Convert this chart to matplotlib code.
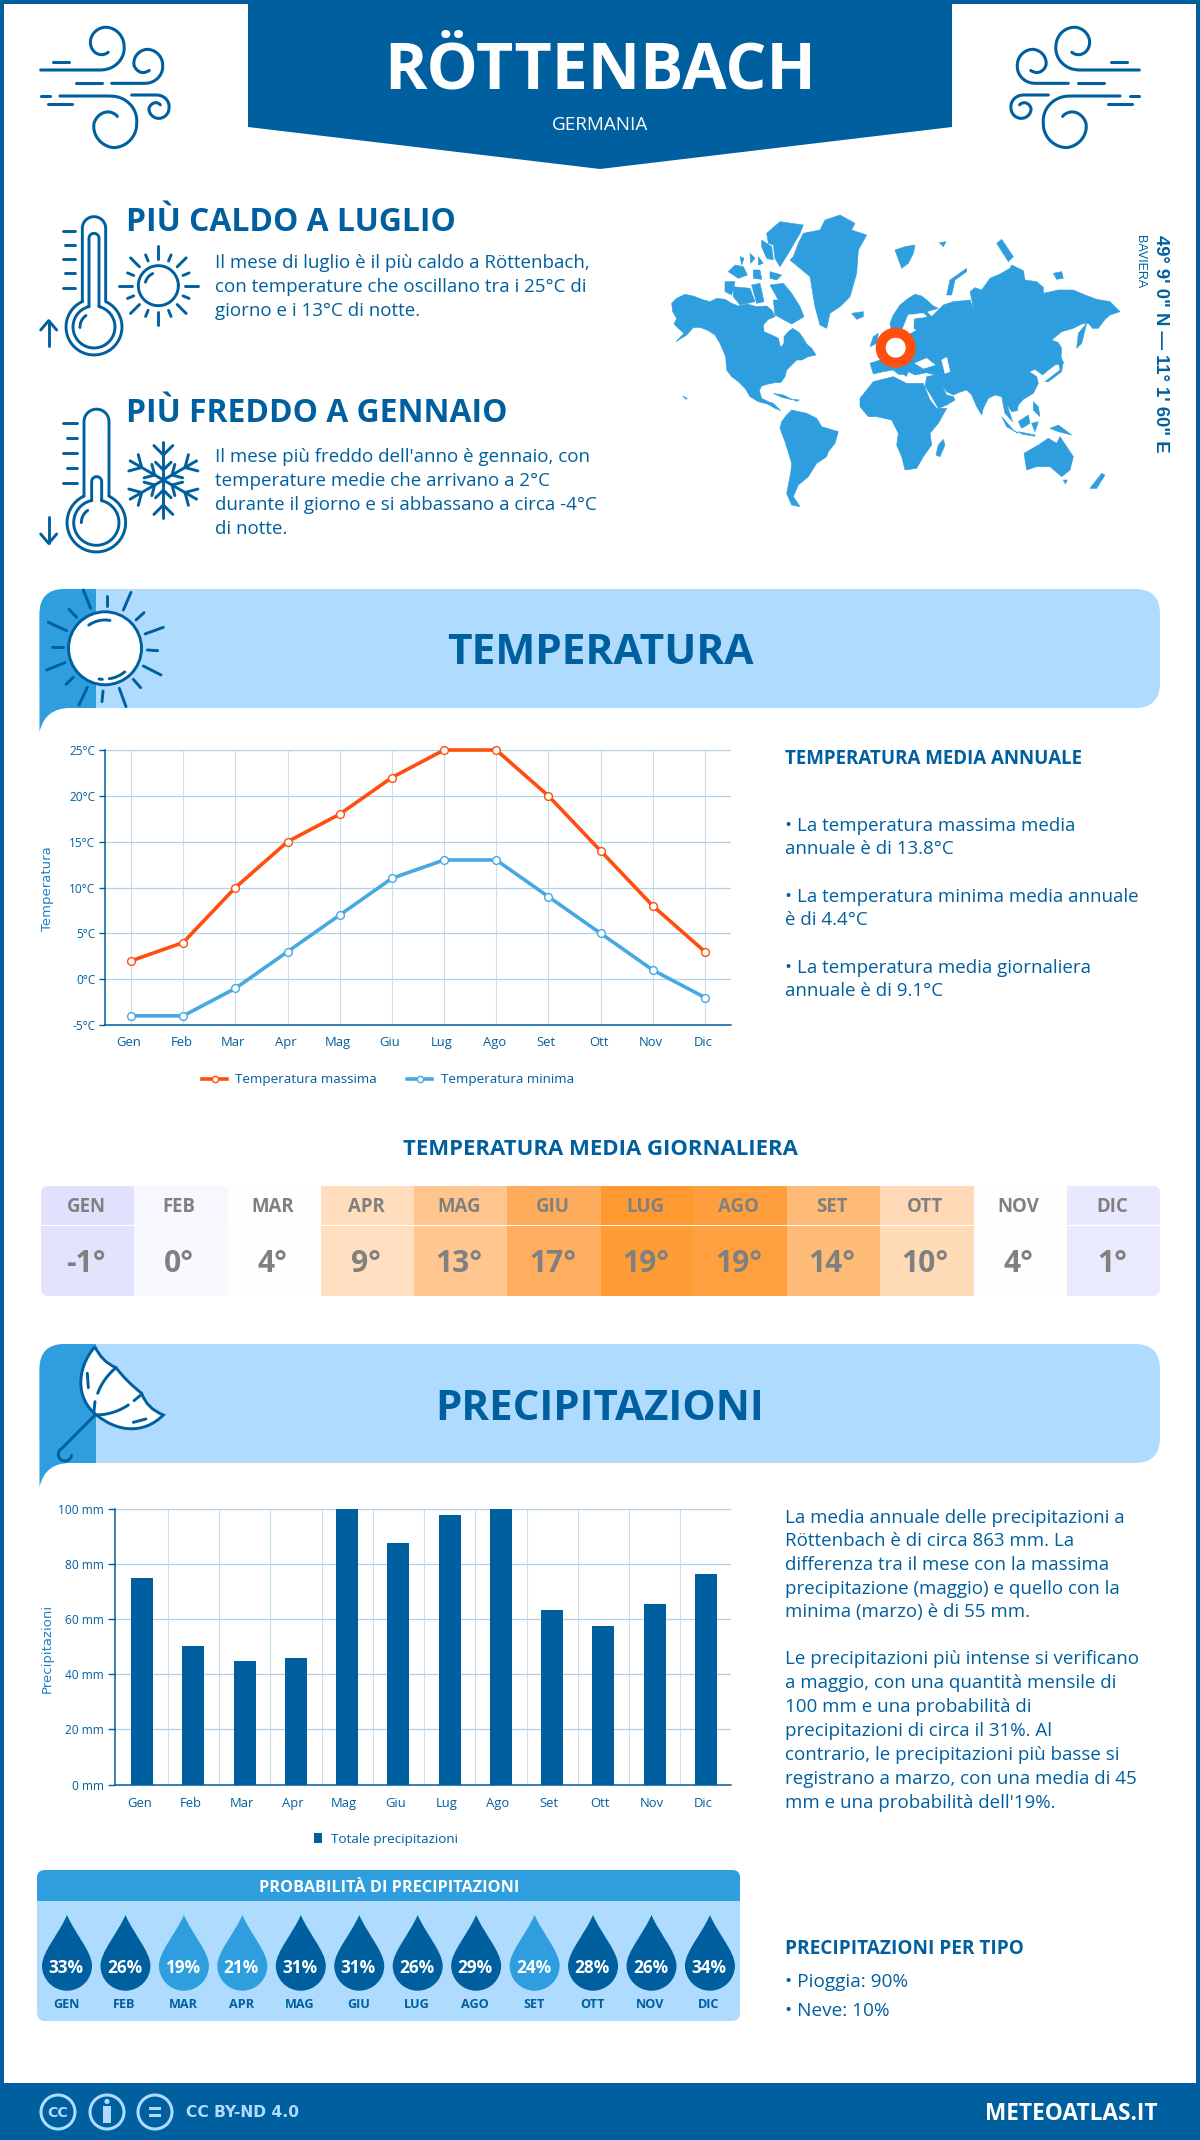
import numpy as np
import matplotlib
matplotlib.use('Agg')
import matplotlib.pyplot as plt
from matplotlib.path import Path
from matplotlib.patches import PathPatch, FancyBboxPatch, Circle, Rectangle, Polygon
from matplotlib.transforms import ScaledTranslation

plt.rcParams['font.family'] = ['Open Sans', 'DejaVu Sans']

# ---------- data ----------
months = ['Gen', 'Feb', 'Mar', 'Apr', 'Mag', 'Giu', 'Lug', 'Ago', 'Set', 'Ott', 'Nov', 'Dic']
temp_max = [2, 4, 10, 15, 18, 22, 25, 25, 20, 14, 8, 3]
temp_min = [-4, -4, -1, 3, 7, 11, 13, 13, 9, 5, 1, -2]
temp_daily = [-1, 0, 4, 9, 13, 17, 19, 19, 14, 10, 4, 1]
precip = [75, 50.2, 44.7, 45.8, 100, 87.8, 98, 100, 63.3, 57.5, 65.6, 76.5]
precip_prob = [33, 26, 19, 21, 31, 31, 26, 29, 24, 28, 26, 34]
temp_ticks = [-5, 0, 5, 10, 15, 20, 25]
precip_ticks = [0, 20, 40, 60, 80, 100]

NAVY = '#005F9E'
MID = '#2E9EDE'
LIGHT = '#AFDBFF'
ORANGE = '#FF4E0D'
MINLINE = '#46A9E2'
GRID_H = '#B3D1E6'
GRID_V = '#C8DFF0'

head_cols = ['#E1E1FD', '#F7F7FF', '#FEFEFE', '#FFDDBD', '#FFC58D', '#FFAB5C', '#FF9A33', '#FF9E3D', '#FFBA75', '#FFD9B5', '#FEFEFE', '#E8E8FF']
val_cols = ['#E3E3FE', '#F8F8FF', '#FEFEFE', '#FFDFC0', '#FFC78F', '#FFAD5F', '#FF9C36', '#FFA040', '#FFBC78', '#FFDBB8', '#FEFEFE', '#EAEAFF']

fig = plt.figure(figsize=(12, 21.4), dpi=100, facecolor='white')
bg = fig.add_axes([0, 0, 1, 1], zorder=0)
bg.set_xlim(0, 1200)
bg.set_ylim(2140, 0)
bg.axis('off')


def T(x, y, s, px, color=NAVY, weight='normal', ha='left', family=None, **kw):
    """y is the baseline in pixels; px the font size in pixels."""
    return bg.text(x, y, s, fontsize=px * 0.72, color=color, weight=weight, ha=ha, va='baseline',
                   family=family if family else ['Open Sans', 'DejaVu Sans'], **kw)


def arc(cx, cy, r, a0, a1, n=40):
    a = np.radians(np.linspace(a0, a1, n))
    return list(zip(cx + r * np.cos(a), cy + r * np.sin(a)))


def spiral(cx, cy, knots, n=100):
    ang = [k[0] for k in knots]
    rad = [k[1] for k in knots]
    a = np.linspace(ang[0], ang[-1], n)
    if ang[0] > ang[-1]:
        r = np.interp(a[::-1], ang[::-1], rad[::-1])[::-1]
    else:
        r = np.interp(a, ang, rad)
    a = np.radians(a)
    return list(zip(cx + r * np.cos(a), cy + r * np.sin(a)))


def pl(pts, ox, oy, k=3.0, color=NAVY, lw=2.1, mirror=None, z=5):
    p = np.array(pts, float)
    xs = ox + p[:, 0] / k
    ys = oy + p[:, 1] / k
    if mirror is not None:
        xs = mirror - xs
    bg.plot(xs, ys, color=color, lw=lw, solid_capstyle='round', solid_joinstyle='round', zorder=z)


def poly(pts, ox, oy, k=3.0, color=MID, z=3):
    p = np.array(pts, float)
    bg.add_patch(Polygon(np.c_[ox + p[:, 0] / k, oy + p[:, 1] / k], closed=True, fc=color, ec=color, lw=0.4, zorder=z))


# ---------- frame and header ----------
for r in [(0, 0, 4, 2140), (1196, 0, 4, 2140), (0, 0, 1200, 4)]:
    bg.add_patch(Rectangle(r[:2], r[2], r[3], fc=NAVY, ec='none', zorder=1))
bg.add_patch(Polygon([(248, 0), (952, 0), (952, 127), (600, 169), (248, 127)], fc=NAVY, ec='none', zorder=1))
T(600, 88.5, 'RÖTTENBACH', 64.5, 'white', 'bold', 'center', zorder=6)
T(600, 130, 'GERMANIA', 18.9, 'white', 'normal', 'center', zorder=6)


def wind(mirror=None):
    segs = [
        [(98, 155), (148, 155)],
        [(62, 180), (245, 180)] + spiral(252, 105, [(95, 75), (0, 60), (-90, 53), (-180, 40), (-270, 28), (-300, 25)]),
        [(168, 220), (245, 220)],
        [(275, 220), (372, 220)] + spiral(380, 165, [(95, 55), (0, 48), (-90, 47), (-180, 38), (-270, 20), (-295, 18)]),
        [(62, 258), (90, 258)],
        [(120, 258), (262, 258)] + spiral(280, 340, [(-95, 82), (0, 70), (90, 73), (180, 58), (270, 30), (300, 24)]),
        [(85, 283), (155, 283)],
        [(335, 255), (410, 255)] + spiral(415, 295, [(-95, 40), (0, 32), (90, 30), (180, 28), (270, 15), (300, 12)]),
    ]
    for s in segs:
        pl(s, 20, 10, mirror=mirror, lw=2.2)


wind()
wind(mirror=1180)

# ---------- thermometer icons ----------
OX, OY = 20, 190
pl([(187, 335), (187, 115)] + arc(222, 115, 35, 180, 360) + [(257, 335)] + arc(222, 411, 84, -64.7, 245.3), OX, OY)
pl([(207, 350), (207, 145)] + arc(222, 145, 15, 180, 360) + [(237, 350)] + arc(222, 411, 63, -76.2, 256.2), OX, OY)
pl(arc(222, 411, 42, 178, 235), OX, OY)
for y, x0 in zip([123, 165, 208, 250, 293], [128, 135, 128, 135, 128]):
    pl([(x0, y), (165, y)], OX, OY)
pl([(86, 468), (86, 392)], OX, OY)
pl([(62, 420), (86, 392), (110, 420)], OX, OY)
pl(arc(415, 287, 60, 0, 360, 80), OX, OY)
pl(arc(415, 287, 40, 195, 245), OX, OY)
for i in range(16):
    a = np.radians(i * 22.5)
    r1 = 118 if i % 2 == 0 else 100
    pl([(415 + 80 * np.cos(a), 287 + 80 * np.sin(a)), (415 + r1 * np.cos(a), 287 + r1 * np.sin(a))], OX, OY)

pl([(192, 918), (192, 695)] + arc(229.5, 695, 37.5, 180, 360) + [(267, 918)] + arc(229, 998, 88, -64.8, 244.8), OX, OY)
pl([(215, 932), (215, 875)] + arc(230, 875, 15, 180, 360) + [(245, 932)] + arc(229, 998, 68, -77.3, 257.3), OX, OY)
pl(arc(229, 998, 45, 180, 235), OX, OY)
for y, x0 in zip([700, 745, 790, 833, 878], [130, 140, 130, 140, 130]):
    pl([(x0, y), (170, y)], OX, OY)
pl([(86, 980), (86, 1060)], OX, OY)
pl([(62, 1032), (86, 1060), (110, 1032)], OX, OY)
cx, cy = 430, 870
for k in range(6):
    a = np.radians(90 + 60 * k)
    d = np.array([np.cos(a), np.sin(a)])
    c = np.array([cx, cy])
    pl([c, c + 115 * d], OX, OY)
    for rr, ln in [(75, 40), (30, 33)]:
        ap = c + rr * d
        for s in (45, -45):
            b = np.radians(90 + 60 * k + s)
            pl([ap, ap + ln * np.array([np.cos(b), np.sin(b)])], OX, OY)

T(126, 231, 'PIÙ CALDO A LUGLIO', 31.9, NAVY, 'bold')
T(126, 421.5, 'PIÙ FREDDO A GENNAIO', 31.9, NAVY, 'bold')
body_px = 18.8
for y, s in zip([268.5, 292, 315.5], ['Il mese di luglio è il più caldo a Röttenbach,',
                                      'con temperature che oscillano tra i 25°C di',
                                      'giorno e i 13°C di notte.']):
    T(215, y, s, body_px)
for y, s in zip([462.5, 486, 510, 533.5], ["Il mese più freddo dell'anno è gennaio, con",
                                           'temperature medie che arrivano a 2°C',
                                           'durante il giorno e si abbassano a circa -4°C',
                                           'di notte.']):
    T(215, y, s, body_px)

# ---------- world map (outline sketch) ----------
MX, MY = 660, 200
land = [
    # North America
    [(35, 310), (50, 295), (75, 283), (100, 288), (125, 298), (150, 305), (170, 295), (195, 298), (215, 310), (235, 318),
     (262, 312), (290, 320), (320, 318), (335, 330), (345, 350), (325, 358), (310, 375), (312, 395), (335, 405), (355, 415),
     (362, 443), (372, 430), (372, 410), (385, 395), (398, 385), (418, 398), (430, 415), (440, 432), (455, 445), (468, 465),
     (445, 470), (425, 480), (410, 480), (395, 495), (380, 510), (375, 530), (362, 548), (345, 548), (325, 552), (305, 558),
     (298, 572), (305, 595), (325, 605), (340, 610), (362, 632), (345, 625), (322, 612), (295, 605), (270, 590), (255, 565),
     (235, 545), (215, 530), (200, 510), (197, 470), (180, 430), (165, 405), (145, 392), (120, 382), (100, 383), (80, 405),
     (48, 425), (72, 400), (55, 385), (42, 372), (50, 355), (38, 335)],
    # South America
    [(365, 665), (380, 645), (395, 630), (440, 640), (470, 655), (485, 680), (535, 695), (525, 730), (505, 755), (500, 770),
     (470, 790), (445, 830), (415, 855), (400, 890), (420, 920), (395, 915), (380, 880), (392, 820), (395, 790), (375, 725),
     (360, 685)],
    # Greenland
    [(400, 170), (415, 130), (430, 100), (480, 90), (495, 60), (540, 45), (585, 70), (575, 90), (620, 105), (595, 150),
     (590, 220), (570, 290), (540, 320), (510, 340), (500, 385), (480, 375), (465, 320), (450, 230), (420, 205), (390, 180)],
    # Arctic Canada
    [(320, 100), (360, 65), (430, 75), (420, 100), (385, 160), (360, 200), (345, 175), (340, 135), (325, 130)],
    [(305, 120), (335, 140), (340, 180), (320, 175), (305, 140)],
    [(330, 215), (365, 225), (350, 240), (330, 235)],
    [(205, 215), (225, 195), (250, 200), (262, 225), (235, 235)],
    [(195, 245), (225, 245), (215, 285), (195, 275)],
    [(220, 260), (270, 265), (285, 305), (240, 315), (220, 290)],
    [(330, 255), (370, 250), (395, 280), (420, 320), (432, 350), (395, 372), (345, 345), (340, 300), (355, 300)],
    [(280, 210), (300, 210), (305, 238), (280, 235)],
    [(295, 170), (310, 190), (295, 195)],
    [(240, 170), (252, 175), (245, 195)],
    [(270, 160), (285, 175), (272, 190)],
    [(275, 255), (300, 250), (312, 305), (290, 310)],
    [(340, 580), (370, 585), (400, 600), (365, 592)],
    [(400, 598), (418, 600), (408, 604)],
    # Africa
    [(600, 595), (620, 570), (640, 545), (700, 530), (740, 550), (790, 550), (810, 600), (830, 625), (860, 625), (835, 670),
     (810, 700), (815, 735), (790, 770), (770, 805), (735, 810), (725, 770), (710, 735), (715, 700), (695, 660), (650, 650),
     (625, 650), (600, 620)],
    [(850, 718), (855, 735), (840, 770), (828, 765), (835, 735)],
    # Eurasia
    [(690, 370), (700, 345), (720, 315), (745, 295), (765, 283), (785, 288), (800, 300), (820, 318), (835, 325), (800, 335),
     (815, 350), (850, 315), (880, 305), (930, 300), (942, 330), (930, 275), (945, 263), (965, 270), (990, 235), (1020, 222),
     (1050, 205), (1055, 195), (1090, 212), (1095, 240), (1130, 245), (1150, 262), (1150, 280), (1195, 270), (1240, 270),
     (1275, 285), (1310, 298), (1350, 305), (1380, 335), (1350, 345), (1335, 358), (1315, 385), (1298, 385), (1285, 370),
     (1265, 372), (1240, 385), (1205, 395), (1175, 420), (1195, 428), (1205, 445), (1203, 470), (1210, 490), (1185, 495),
     (1165, 510), (1148, 525), (1125, 508), (1108, 515), (1130, 530), (1135, 550), (1120, 580), (1090, 598), (1075, 615),
     (1072, 632), (1055, 635), (1040, 612), (1058, 665), (1035, 640), (1025, 590), (1005, 585), (985, 595), (970, 625),
     (965, 645), (950, 620), (935, 585), (920, 570), (895, 578), (880, 585), (860, 575), (845, 555), (860, 585), (880, 590),
     (885, 600), (860, 615), (835, 625), (815, 590), (795, 558), (800, 530), (825, 525), (800, 518), (765, 525), (745, 515),
     (735, 540), (700, 510), (670, 515), (640, 522), (630, 490), (660, 480), (690, 450), (720, 410), (745, 405), (770, 390),
     (745, 375), (745, 340), (725, 390), (695, 395)],
    # islands
    [(1255, 400), (1280, 370), (1265, 430), (1250, 445)],
    [(1155, 545), (1200, 510), (1195, 485), (1210, 485), (1205, 515), (1165, 545)],
    [(705, 150), (735, 140), (765, 135), (760, 160), (745, 190), (725, 205)],
    [(838, 128), (858, 125), (850, 140)],
    [(860, 285), (870, 240), (920, 205), (920, 215), (885, 240), (875, 285)],
    [(1010, 130), (1025, 118), (1060, 170), (1045, 185)],
    [(1180, 220), (1205, 215), (1210, 235), (1190, 238)],
    [(575, 340), (610, 335), (610, 350), (590, 358)],
    [(640, 410), (655, 400), (650, 430), (630, 440)],
    [(1092, 760), (1135, 735), (1165, 715), (1190, 730), (1200, 710), (1240, 770), (1230, 810), (1205, 830), (1170, 800),
     (1130, 800), (1100, 810)],
    [(1210, 840), (1222, 840), (1216, 852)],
    [(1290, 865), (1325, 820), (1335, 825), (1310, 865)],
    [(1025, 650), (1060, 690), (1075, 700), (1040, 680)],
    [(1075, 665), (1105, 645), (1110, 670), (1085, 685)],
    [(1075, 695), (1125, 705), (1125, 709), (1085, 702)],
    [(1170, 685), (1195, 675), (1235, 705), (1195, 695)],
    [(1120, 605), (1135, 620), (1140, 650), (1120, 630)],
    [(1115, 670), (1135, 665), (1125, 695)],
    [(68, 588), (82, 595), (78, 598)],
]
for p in land:
    poly(p, MX, MY)
for p in [[(765, 490), (800, 475), (825, 495), (790, 505)], [(845, 480), (860, 472), (870, 515), (855, 520)],
          [(790, 340), (745, 345), (740, 385), (760, 390), (762, 355), (800, 350)],
          [(705, 525), (735, 545), (760, 545), (730, 525)]]:
    poly(p, MX, MY, color='white', z=4)
bg.add_patch(Circle((895.7, 347.7), 15, fc='white', ec=ORANGE, lw=7.2, zorder=6))
T(1155.5, 344, '49° 9\' 0" N — 11° 1\' 60" E', 18.5, NAVY, 'bold', 'center', family='Liberation Sans',
  rotation=270, rotation_mode='anchor')
T(1137, 262, 'BAVIERA', 12.5, NAVY, 'normal', 'center', family='Liberation Sans', rotation=270, rotation_mode='anchor')


# ---------- section banners ----------
def banner(top):
    bot = top + 119
    bg.add_patch(FancyBboxPatch((39.5, top), 1120.5, 119, boxstyle='round,pad=0,rounding_size=25', fc=LIGHT, ec='none', zorder=2))
    v = [(96, top), (64.5, top), (39.5, top), (39.5, top + 25), (39.5, bot + 24), (45, bot), (70, bot), (96, bot), (96, top)]
    c = [Path.MOVETO, Path.LINETO, Path.CURVE3, Path.CURVE3, Path.LINETO, Path.CURVE3, Path.CURVE3, Path.LINETO, Path.CLOSEPOLY]
    bg.add_patch(PathPatch(Path(v, c), fc=MID, ec='none', zorder=3))


banner(589)
banner(1344)
T(600, 663.5, 'TEMPERATURA', 42.4, NAVY, 'bold', 'center', zorder=6)
T(600, 1419.5, 'PRECIPITAZIONI', 42, NAVY, 'bold', 'center', zorder=6)

# sun
SX, SY = 30, 580
bg.add_patch(Circle((105, 648.3), 36.5, fc='white', ec=NAVY, lw=2.1, zorder=5))
for a, b, c, d in [(160, 30, 182, 85), (303, 37, 280, 90), (400, 142, 345, 162), (393, 285, 340, 258), (288, 380, 268, 325),
                   (147, 375, 172, 322), (50, 270, 105, 248), (55, 127, 110, 152), (230, 47, 230, 78), (342, 98, 318, 120),
                   (383, 212, 352, 210), (332, 323, 310, 298), (216, 365, 219, 333), (108, 313, 130, 292), (67, 200, 98, 200),
                   (117, 88, 140, 112)]:
    pl([(a, b), (c, d)], SX, SY)
pl(arc(225, 205, 85, 235, 280), SX, SY)
pl(arc(225, 205, 92, 50, 82), SX, SY)
pl([(207, 297), (217, 298)], SX, SY)

# umbrella
UX, UY = 30, 1335
pts = [(195, 35), (135, 105), (140, 195), (200, 240), (260, 290), (340, 300), (400, 240), (350, 220), (335, 175), (290, 140),
       (258, 98), (215, 80), (195, 35)]
cd = [Path.MOVETO] + [Path.CURVE4] * 6 + [Path.CURVE3] * 6
upts = [(UX + x / 3, UY + y / 3) for x, y in pts]
bg.add_patch(PathPatch(Path(upts, cd), fc='white', ec=NAVY, lw=2.1, zorder=5))


def q(p0, p1, p2, n=20):
    t = np.linspace(0, 1, n)[:, None]
    return (1 - t) ** 2 * np.array(p0) + 2 * t * (1 - t) * np.array(p1) + t ** 2 * np.array(p2)


pl(q((203, 175), (220, 130), (258, 98)), UX, UY, z=6)
pl([(195, 200), (192, 228)], UX, UY, z=6)
pl(q((195, 240), (250, 240), (295, 210)), UX, UY, z=6)
pl([(312, 197), (335, 178)], UX, UY, z=6)
pl([(172, 115), (175, 158)], UX, UY, z=6)
pl([(310, 262), (348, 252)], UX, UY, z=6)
pl([(195, 240), (92, 344)] + arc(105, 358, 20, 225, 10), UX, UY, z=6)


# ---------- temperature chart ----------
def px_axes(l, t, r, b, z=2):
    ax = fig.add_axes([l / 1200, 1 - b / 2140, (r - l) / 1200, (b - t) / 2140], zorder=z)
    ax.patch.set_alpha(0)
    return ax


ax = px_axes(105, 750, 731, 1025)
x = np.arange(12)
ax.set_xlim(-0.5, 11.5)
ax.set_ylim(-5, 25)
ax.set_axisbelow(True)
ax.grid(axis='y', color=GRID_H, lw=0.9)
ax.grid(axis='x', color=GRID_V, lw=0.8)
ax.plot(x, temp_max, color=ORANGE, lw=2.6, marker='o', ms=5.6, mfc='white', mec=ORANGE, mew=1, label='Temperatura massima', clip_on=False, zorder=4)
ax.plot(x, temp_min, color=MINLINE, lw=2.6, marker='o', ms=5.6, mfc='white', mec=MINLINE, mew=1, label='Temperatura minima', clip_on=False, zorder=4)
ax.set_xticks(x, months)
ax.set_yticks(temp_ticks, [f'{v}°C' for v in temp_ticks])
ax.tick_params(axis='y', length=4, width=1, color=NAVY, labelcolor=NAVY, labelsize=8.6, pad=3)
ax.tick_params(axis='x', length=0, labelcolor=NAVY, labelsize=9.4, pad=8)
for lb in ax.get_xticklabels():
    lb.set_transform(lb.get_transform() + ScaledTranslation(-2 / 100, 0, fig.dpi_scale_trans))
for s in ('top', 'right'):
    ax.spines[s].set_visible(False)
for s in ('left', 'bottom'):
    ax.spines[s].set_color(NAVY)
    ax.spines[s].set_linewidth(1.1)
leg = ax.legend(ncol=2, loc='center', bbox_to_anchor=(387.7 / 1200, 1 - 1080 / 2140), bbox_transform=fig.transFigure,
                frameon=False, fontsize=9.7, labelcolor=NAVY, handlelength=1.9, columnspacing=2.2, handletextpad=0.6,
                markerscale=0.8)
bg.text(47, 889, 'Temperatura', rotation=90, ha='center', va='center', fontsize=9.5, color='#1F80C4', family='DejaVu Sans')

# ---------- right-hand texts (temperature) ----------
T(785, 763.5, 'TEMPERATURA MEDIA ANNUALE', 18.8, NAVY, 'bold')
for y, s in zip([831, 854, 901.5, 925, 973, 996.5], ['• La temperatura massima media', 'annuale è di 13.8°C',
                                                     '• La temperatura minima media annuale', 'è di 4.4°C',
                                                     '• La temperatura media giornaliera', 'annuale è di 9.1°C']):
    T(785, y, s, 18.8)

# ---------- daily temperature table ----------
T(600, 1155, 'TEMPERATURA MEDIA GIORNALIERA', 22.2, NAVY, 'bold', 'center')
tl, tw = 41, (1160 - 41) / 12
clip = FancyBboxPatch((41, 1186), 1119, 110, boxstyle='round,pad=0,rounding_size=7', fc='none', ec='none', zorder=2)
bg.add_patch(clip)
for i, (m, v) in enumerate(zip(months, temp_daily)):
    h = Rectangle((tl + i * tw, 1186), tw + 0.5, 39, fc=head_cols[i], ec='none', zorder=2)
    b = Rectangle((tl + i * tw, 1226), tw + 0.5, 70, fc=val_cols[i], ec='none', zorder=2)
    bg.add_patch(h)
    bg.add_patch(b)
    h.set_clip_path(clip)
    b.set_clip_path(clip)
    T(tl + (i + 0.5) * tw - 1.5, 1212, m.upper(), 18.6, '#808080', 'bold', 'center', zorder=6)
    T(tl + (i + 0.5) * tw - 1.5, 1272, f'{v}°', 30, '#808080', 'bold', 'center', zorder=6)

# ---------- precipitation chart ----------
ax2 = px_axes(115, 1509, 731, 1784.5)
ax2.set_xlim(-0.53, 11.49)
ax2.set_ylim(0, 100)
ax2.set_axisbelow(True)
ax2.bar(x, precip, width=0.43, color=NAVY, label='Totale precipitazioni', zorder=3)
ax2.set_xticks(x, months)
ax2.set_xticks(x[:-1] + 0.5, minor=True)
ax2.set_yticks(precip_ticks, [f'{v} mm' for v in precip_ticks])
ax2.grid(axis='y', color=GRID_H, lw=0.9)
ax2.grid(axis='x', which='minor', color=GRID_V, lw=0.8)
ax2.tick_params(axis='y', length=5, width=1, color=NAVY, labelcolor=NAVY, labelsize=8.6, pad=3)
ax2.tick_params(axis='x', which='both', length=0, labelcolor=NAVY, labelsize=9.4, pad=9)
for lb in ax2.get_xticklabels():
    lb.set_transform(lb.get_transform() + ScaledTranslation(-3 / 100, 0, fig.dpi_scale_trans))
for s in ('top', 'right'):
    ax2.spines[s].set_visible(False)
for s in ('left', 'bottom'):
    ax2.spines[s].set_color(NAVY)
    ax2.spines[s].set_linewidth(1.1)
ax2.legend(loc='center', bbox_to_anchor=(386 / 1200, 1 - 1839 / 2140), bbox_transform=fig.transFigure, frameon=False,
           fontsize=9.7, labelcolor=NAVY, handlelength=0.6, handleheight=0.7, handletextpad=0.7)
bg.text(47, 1648, 'Precipitazioni', rotation=90, ha='center', va='center', fontsize=9.5, color='#1F80C4', family='DejaVu Sans')

for y, s in zip([1523, 1546.5, 1570, 1594, 1617.5, 1664.5, 1688.5, 1712, 1735.5, 1759.5, 1783.5, 1807.5],
                ['La media annuale delle precipitazioni a', 'Röttenbach è di circa 863 mm. La',
                 'differenza tra il mese con la massima', 'precipitazione (maggio) e quello con la',
                 'minima (marzo) è di 55 mm.', 'Le precipitazioni più intense si verificano',
                 'a maggio, con una quantità mensile di', '100 mm e una probabilità di',
                 'precipitazioni di circa il 31%. Al', 'contrario, le precipitazioni più basse si',
                 'registrano a marzo, con una media di 45', "mm e una probabilità dell'19%."]):
    T(785, y, s, 18.8)

# ---------- precipitation probability panel ----------
bg.add_patch(FancyBboxPatch((37, 1870), 703, 151, boxstyle='round,pad=0,rounding_size=8', fc=LIGHT, ec='none', zorder=2))
hd = FancyBboxPatch((37, 1870), 703, 60, boxstyle='round,pad=0,rounding_size=8', fc=MID, ec='none', zorder=3)
bg.add_patch(hd)
hd.set_clip_path(Rectangle((37, 1870), 703, 31, transform=bg.transData))
T(389, 1892.5, 'PROBABILITÀ DI PRECIPITAZIONI', 16.3, 'white', 'bold', 'center', zorder=6)
for i, (m, v) in enumerate(zip(months, precip_prob)):
    cx = 67 + i * 58.45
    cy = 1965.7
    R = 25
    K = 0.552 * R
    verts = [(cx, cy - 50.7), (cx + 8, cy - 32), (cx + R, cy - 14), (cx + R, cy), (cx + R, cy + K), (cx + K, cy + R), (cx, cy + R),
             (cx - K, cy + R), (cx - R, cy + K), (cx - R, cy), (cx - R, cy - 14), (cx - 8, cy - 32), (cx, cy - 50.7)]
    col = NAVY if v >= 26 else MID
    bg.add_patch(PathPatch(Path(verts, [Path.MOVETO] + [Path.CURVE4] * 12), fc=col, ec='none', zorder=4))
    T(cx - 1, 1973, f'{v}%', 17.2, 'white', 'bold', 'center', zorder=6)
    T(cx - 1, 2008.5, m.upper(), 12.6, NAVY, 'bold', 'center', zorder=6)

T(785, 1953.5, 'PRECIPITAZIONI PER TIPO', 19, NAVY, 'bold')
T(785, 1987, '• Pioggia: 90%', 19)
T(785, 2016, '• Neve: 10%', 19)

# ---------- footer ----------
bg.add_patch(Rectangle((0, 2083), 1200, 57, fc=NAVY, ec='none', zorder=1))
for c in (58, 107, 155):
    bg.add_patch(Circle((c, 2112), 17, fc='none', ec=LIGHT, lw=2.2, zorder=5))
T(58, 2117, 'CC', 14, LIGHT, 'bold', 'center', family='DejaVu Sans', zorder=6)
bg.add_patch(Circle((107, 2101.5), 2.6, fc=LIGHT, ec='none', zorder=6))
bg.add_patch(Rectangle((103, 2105.5), 8, 17.5, fc=LIGHT, ec='none', zorder=6))
bg.add_patch(Rectangle((149, 2106.5), 12, 3, fc=LIGHT, ec='none', zorder=6))
bg.add_patch(Rectangle((149, 2113.5), 12, 3, fc=LIGHT, ec='none', zorder=6))
T(186, 2117, 'CC BY-ND 4.0', 15.5, LIGHT, 'bold', family='DejaVu Sans', zorder=6)
T(1158, 2119.5, 'METEOATLAS.IT', 22.6, 'white', 'bold', 'right', zorder=6)

fig.savefig('out.png', dpi=100)
